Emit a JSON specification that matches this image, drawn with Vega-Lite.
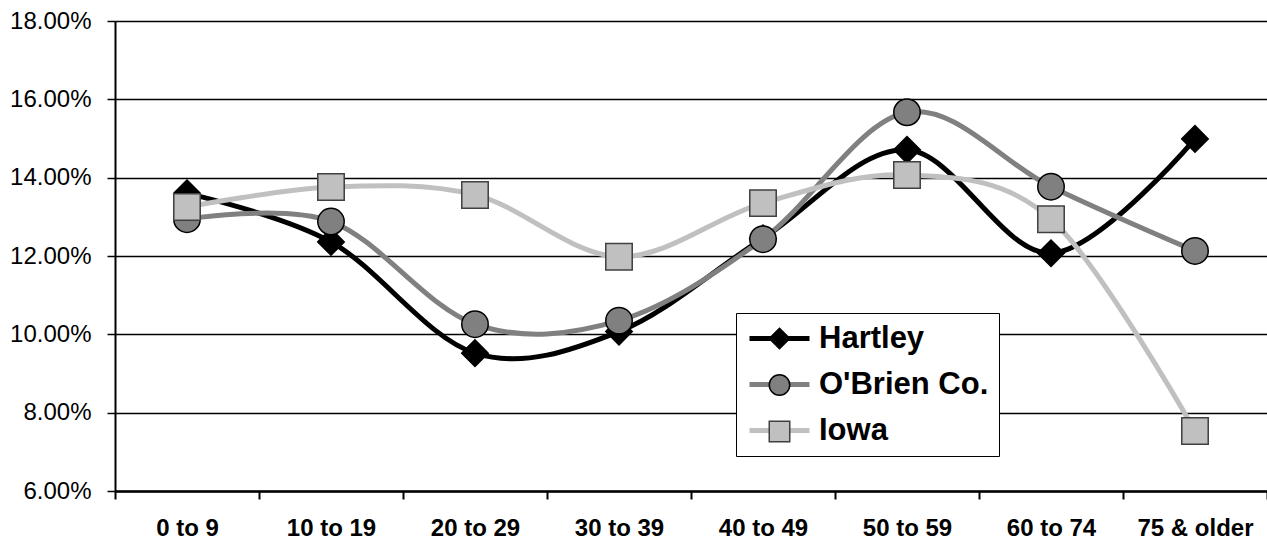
{
  "$schema": "https://vega.github.io/schema/vega-lite/v6.json",
  "width": 1152,
  "height": 470,
  "autosize": {"type": "none"},
  "padding": {"left": 115, "top": 21, "right": 0, "bottom": 51},
  "background": "white",
  "config": {"view": {"stroke": null}, "font": "Liberation Sans"},
  "data": {
    "values": [
      {"series": "Hartley", "age": "0 to 9", "pct": 0.1360},
      {"series": "Hartley", "age": "10 to 19", "pct": 0.1236},
      {"series": "Hartley", "age": "20 to 29", "pct": 0.0952},
      {"series": "Hartley", "age": "30 to 39", "pct": 0.1007},
      {"series": "Hartley", "age": "40 to 49", "pct": 0.1245},
      {"series": "Hartley", "age": "50 to 59", "pct": 0.1471},
      {"series": "Hartley", "age": "60 to 74", "pct": 0.1207},
      {"series": "Hartley", "age": "75 & older", "pct": 0.1499},
      {"series": "O'Brien Co.", "age": "0 to 9", "pct": 0.1294},
      {"series": "O'Brien Co.", "age": "10 to 19", "pct": 0.1288},
      {"series": "O'Brien Co.", "age": "20 to 29", "pct": 0.1026},
      {"series": "O'Brien Co.", "age": "30 to 39", "pct": 0.1035},
      {"series": "O'Brien Co.", "age": "40 to 49", "pct": 0.1243},
      {"series": "O'Brien Co.", "age": "50 to 59", "pct": 0.1567},
      {"series": "O'Brien Co.", "age": "60 to 74", "pct": 0.1377},
      {"series": "O'Brien Co.", "age": "75 & older", "pct": 0.1213},
      {"series": "Iowa", "age": "0 to 9", "pct": 0.1325},
      {"series": "Iowa", "age": "10 to 19", "pct": 0.1376},
      {"series": "Iowa", "age": "20 to 29", "pct": 0.1356},
      {"series": "Iowa", "age": "30 to 39", "pct": 0.1198},
      {"series": "Iowa", "age": "40 to 49", "pct": 0.1335},
      {"series": "Iowa", "age": "50 to 59", "pct": 0.1407},
      {"series": "Iowa", "age": "60 to 74", "pct": 0.1294},
      {"series": "Iowa", "age": "75 & older", "pct": 0.0753}
    ]
  },
  "encoding": {
    "x": {
      "field": "age",
      "type": "ordinal",
      "sort": ["0 to 9", "10 to 19", "20 to 29", "30 to 39", "40 to 49", "50 to 59", "60 to 74", "75 & older"],
      "scale": {"type": "band", "paddingInner": 0, "paddingOuter": 0},
      "axis": {
        "title": null,
        "labelAngle": 0,
        "labelFont": "Liberation Sans",
        "labelFontSize": 24,
        "labelFontWeight": "bold",
        "labelColor": "black",
        "labelPadding": 17,
        "tickBand": "extent",
        "tickSize": 8,
        "tickWidth": 2,
        "tickColor": "black",
        "domainColor": "black",
        "domainWidth": 2.5,
        "grid": false
      }
    },
    "y": {
      "field": "pct",
      "type": "quantitative",
      "scale": {"domain": [0.06, 0.18], "nice": false, "zero": false},
      "axis": {
        "title": null,
        "values": [0.06, 0.08, 0.10, 0.12, 0.14, 0.16, 0.18],
        "format": ".2%",
        "labelFont": "Liberation Sans",
        "labelFontSize": 24,
        "labelColor": "black",
        "labelPadding": 16,
        "labelFlush": false,
        "tickSize": 8,
        "tickWidth": 1.5,
        "tickColor": "black",
        "domainColor": "black",
        "domainWidth": 2,
        "grid": true,
        "gridColor": "black",
        "gridWidth": 1.5
      }
    }
  },
  "layer": [
    {
      "mark": {"type": "line", "interpolate": "cardinal", "strokeWidth": 5},
      "encoding": {
        "color": {
          "field": "series",
          "type": "nominal",
          "sort": ["Hartley", "O'Brien Co.", "Iowa"],
          "scale": {"range": ["#000000", "#808080", "#C0C0C0"]},
          "legend": {
            "title": null,
            "orient": "none",
            "legendX": 621,
            "legendY": 292,
            "fillColor": "white",
            "strokeColor": "black",
            "padding": 10,
            "labelFont": "Liberation Sans",
            "labelFontSize": 31,
            "labelFontWeight": "bold",
            "labelColor": "black",
            "labelLimit": 500,
            "labelOffset": 42,
            "symbolType": "M-1.2,0L4.8,0",
            "symbolSize": 400,
            "symbolStrokeWidth": 5,
            "rowPadding": 14
          }
        }
      }
    },
    {
      "mark": {"type": "point", "filled": true, "size": 700, "strokeWidth": 1.5, "opacity": 1},
      "encoding": {
        "fill": {
          "field": "series",
          "type": "nominal",
          "scale": {"domain": ["Hartley", "O'Brien Co.", "Iowa"], "range": ["#000000", "#808080", "#C0C0C0"]},
          "legend": {
            "title": null, "orient": "none", "legendX": 639, "legendY": 292, "padding": 10,
            "labelExpr": "''", "labelFontSize": 31, "labelOffset": 0,
            "symbolSize": 420, "symbolStrokeWidth": 1.5, "rowPadding": 14.5
          }
        },
        "shape": {
          "field": "series",
          "type": "nominal",
          "scale": {"domain": ["Hartley", "O'Brien Co.", "Iowa"], "range": ["diamond", "circle", "square"]},
          "legend": {
            "title": null, "orient": "none", "legendX": 639, "legendY": 292, "padding": 10,
            "labelExpr": "''", "labelFontSize": 31, "labelOffset": 0,
            "symbolSize": 420, "symbolStrokeWidth": 1.5, "rowPadding": 14.5
          }
        },
        "stroke": {
          "field": "series",
          "type": "nominal",
          "scale": {"domain": ["Hartley", "O'Brien Co.", "Iowa"], "range": ["#000000", "#000000", "#404040"]},
          "legend": {
            "title": null, "orient": "none", "legendX": 639, "legendY": 292, "padding": 10,
            "labelExpr": "''", "labelFontSize": 31, "labelOffset": 0,
            "symbolSize": 420, "symbolStrokeWidth": 1.5, "rowPadding": 14.5
          }
        }
      }
    }
  ]
}
